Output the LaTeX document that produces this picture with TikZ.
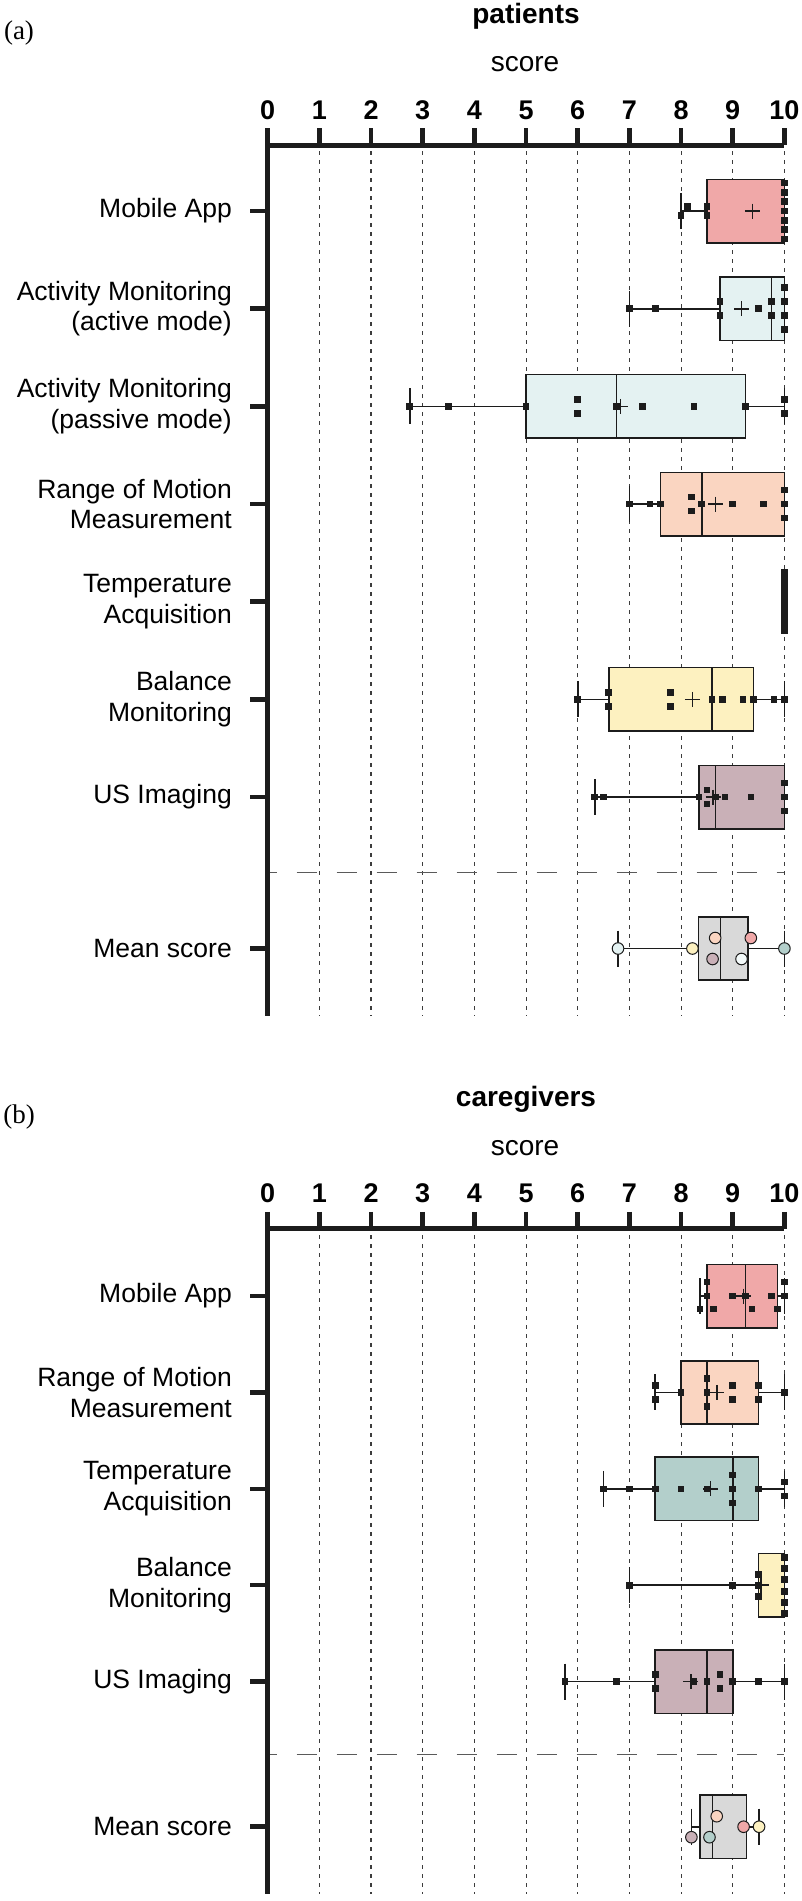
\documentclass[tikz,border=0pt]{standalone}
\usepackage{fontspec}
\setmainfont{Liberation Sans}
\newfontfamily\panelfont{Liberation Serif}
\definecolor{ink}{RGB}{28,28,28}
\definecolor{gridc}{RGB}{60,60,60}
\definecolor{sepc}{RGB}{90,90,90}
\definecolor{cMob}{RGB}{240,168,168}
\definecolor{cAct}{RGB}{228,242,242}
\definecolor{cRom}{RGB}{250,213,193}
\definecolor{cBal}{RGB}{253,241,192}
\definecolor{cUS}{RGB}{201,176,183}
\definecolor{cTmp}{RGB}{179,207,203}
\definecolor{cMean}{RGB}{217,217,217}
\newcommand\sx[1]{(267.7+51.67*(#1))}
\newcommand\pts[2]{\foreach \v/\d in {#2}{\fill[ink] ({\sx{\v}-3.3},{#1+\d-3.3}) rectangle ++(6.6,6.6);}}
\newcommand\bxrow[7]{%
  \draw[whln] ({\sx{#2}},#1) -- ({\sx{#3}},#1);
  \draw[whln] ({\sx{#5}},#1) -- ({\sx{#6}},#1);
  \draw[whln] ({\sx{#2}},{#1-18}) -- ({\sx{#2}},{#1+18});
  \draw[whln] ({\sx{#6}},{#1-18}) -- ({\sx{#6}},{#1+18});
  \filldraw[bxln,fill=#7] ({\sx{#3}},{#1-31.7}) rectangle ({\sx{#5}},{#1+31.7});
  \draw[whln] ({\sx{#4}},{#1-31.7}) -- ({\sx{#4}},{#1+31.7});
}
\newcommand\meanmark[2]{\draw[whln] ({\sx{#2}-7.5},#1) -- ++(15,0) ({\sx{#2}},{#1-7.5}) -- ++(0,15);}
\newcommand\mcirc[4]{\filldraw[draw=ink,line width=1pt,fill=#4] ({\sx{#2}},{#1+#3}) circle (5.8);}
\newcommand\header[4]{%
  \node[font=\panelfont\fontsize{27}{30}\selectfont, inner sep=0pt] (#4lt) at (19,{33+#1}) {#3};
  \node[font=\bfseries\fontsize{28}{30}\selectfont, anchor=base, inner sep=0pt] (#4ti) at (526,{23.3+#1}) {#2};
  \node[font=\fontsize{28}{30}\selectfont, anchor=base, inner sep=0pt] (#4sc) at (525,{71.7+#1}) {score};
  \foreach \k in {0,...,10} \node[font=\bfseries\fontsize{27}{30}\selectfont, anchor=base, inner sep=0pt] (#4t\k) at ({\sx{\k}},{119+#1}) {\k};
  \draw[axln] (267.7,{145+#1}) -- (784.3,{145+#1});
  \foreach \k in {1,...,10} \draw[axtick] ({\sx{\k}},{128.3+#1}) -- ({\sx{\k}},{145+#1});
}
\tikzset{
  axln/.style={line width=5pt, draw=ink},
  axtick/.style={line width=4.5pt, draw=ink},
  gridln/.style={draw=gridc, line width=1.1pt, dash pattern=on 4pt off 5pt},
  sepln/.style={draw=sepc, line width=1.4pt, dash pattern=on 20pt off 20pt, dash phase=11.3pt},
  whln/.style={draw=ink, line width=1.6pt},
  bxln/.style={draw=ink, line width=1.6pt},
  lbl/.style={font=\fontsize{26.5}{30.5}\selectfont, anchor=east, align=right, inner sep=0pt}
}
\begin{document}
\begin{tikzpicture}[x=1pt,y=-1pt]
\useasboundingbox[fill=white] (0,0) rectangle (801,1901);
% ================= panel (a) =================
\header{0}{patients}{(a)}{A}
\foreach \k in {1,...,10} \draw[gridln] ({\sx{\k}},151) -- ({\sx{\k}},1016);
\draw[sepln] (268,872.7) -- (784.3,872.7);
\draw[axln] (267.7,128.3) -- (267.7,1016);
\foreach \yy in {211,308.7,406.3,504,601.7,699.3,797,948.5} \draw[axtick] (250,\yy) -- (267.7,\yy);
\node[lbl] (a1) at (232,211) {Mobile App};
\node[lbl] (a2) at (232,308.7) {Activity Monitoring\\(active mode)};
\node[lbl] (a3) at (232,406.3) {Activity Monitoring\\(passive mode)};
\node[lbl] (a4) at (232,504) {Range of Motion\\Measurement};
\node[lbl] (a5) at (232,601.7) {Temperature\\Acquisition};
\node[lbl] (a6) at (232,699.3) {Balance\\Monitoring};
\node[lbl] (a7) at (232,797) {US Imaging};
\node[lbl] (a8) at (232,948.5) {Mean score};
% Mobile App
\bxrow{211}{8.0}{8.5}{10}{10}{10}{cMob}\meanmark{211}{9.38}
\pts{211}{8.12/-4.5,8.5/-4.5,8.0/4.5,8.5/4.5,10/-28,10/-18.7,10/-9.3,10/0,10/9.3,10/18.7,10/28}
% Activity active
\bxrow{308.7}{7.0}{8.75}{9.75}{10}{10}{cAct}\meanmark{308.7}{9.17}
\pts{308.7}{7.0/0,7.5/0,8.75/-7,8.75/7,9.5/0,9.75/-7,9.75/7,10/-21,10/-7,10/7,10/21}
% Activity passive
\bxrow{406.3}{2.75}{5.0}{6.75}{9.25}{10}{cAct}\meanmark{406.3}{6.83}
\pts{406.3}{2.75/0,3.5/0,5.0/0,6.0/-7,6.0/7,6.75/0,7.25/0,8.25/0,9.25/0,10/-7,10/7}
% ROM
\bxrow{504}{7.0}{7.6}{8.4}{10}{10}{cRom}\meanmark{504}{8.67}
\pts{504}{7.0/0,7.4/0,7.6/0,8.2/-7,8.2/7,8.4/0,9.0/0,9.6/0,10/-14,10/0,10/14}
% Temperature
\pts{601.7}{10/-29,10/-23.2,10/-17.4,10/-11.6,10/-5.8,10/0,10/5.8,10/11.6,10/17.4,10/23.2,10/29}
% Balance
\bxrow{699.3}{6.0}{6.6}{8.6}{9.4}{10}{cBal}\meanmark{699.3}{8.22}
\pts{699.3}{6.0/0,6.6/-7,6.6/7,7.8/-7,7.8/7,8.6/0,8.8/0,9.2/0,9.4/0,9.8/0,10/0}
% US
\bxrow{797}{6.33}{8.35}{8.67}{10}{10}{cUS}\meanmark{797}{8.62}
\pts{797}{6.33/0,6.5/0,8.35/0,8.5/-7,8.5/7,8.67/0,8.85/0,9.35/0,10/-14,10/0,10/14}
% Mean
\bxrow{948.5}{6.78}{8.34}{8.76}{9.3}{10}{cMean}
\mcirc{948.5}{6.78}{0}{cAct}\mcirc{948.5}{8.22}{0}{cBal}\mcirc{948.5}{8.66}{-10.5}{cRom}
\mcirc{948.5}{8.61}{10.5}{cUS}\mcirc{948.5}{9.17}{10.5}{white!60!cAct}\mcirc{948.5}{9.35}{-10.5}{cMob}
\mcirc{948.5}{10}{0}{cTmp}
% ================= panel (b) =================
\header{1083.5}{caregivers}{(b)}{B}
\foreach \k in {1,...,10} \draw[gridln] ({\sx{\k}},1235) -- ({\sx{\k}},1894);
\draw[sepln] (268,1754.3) -- (784.3,1754.3);
\draw[axln] (267.7,1211.8) -- (267.7,1894);
\foreach \yy in {1296,1392.4,1488.8,1585.2,1681.6,1826.7} \draw[axtick] (250,\yy) -- (267.7,\yy);
\node[lbl] (b1) at (232,1296) {Mobile App};
\node[lbl] (b2) at (232,1392.4) {Range of Motion\\Measurement};
\node[lbl] (b3) at (232,1488.8) {Temperature\\Acquisition};
\node[lbl] (b4) at (232,1585.2) {Balance\\Monitoring};
\node[lbl] (b5) at (232,1681.6) {US Imaging};
\node[lbl] (b6) at (232,1826.7) {Mean score};
% Mobile
\bxrow{1296}{8.37}{8.5}{9.25}{9.87}{10}{cMob}\meanmark{1296}{9.21}
\pts{1296}{8.37/13,8.5/-14,8.5/0,8.63/13,9.0/0,9.25/0,9.37/13,9.75/0,9.87/13,10/-14,10/0}
% ROM
\bxrow{1392.4}{7.5}{8.0}{8.5}{9.5}{10}{cRom}\meanmark{1392.4}{8.69}
\pts{1392.4}{7.5/-7,7.5/7,8.0/0,8.5/-14,8.5/0,8.5/14,9.0/-7,9.0/7,9.5/-7,9.5/7,10/0}
% Temperature
\bxrow{1488.8}{6.5}{7.5}{9.0}{9.5}{10}{cTmp}\meanmark{1488.8}{8.57}
\pts{1488.8}{6.5/0,7.0/0,7.5/0,8.0/0,8.5/0,9.0/-14,9.0/0,9.0/14,9.5/0,10/-7,10/7}
% Balance
\bxrow{1585.2}{7.0}{9.5}{10}{10}{10}{cBal}\meanmark{1585.2}{9.55}
\pts{1585.2}{7.0/0,9.0/0,9.5/-11,9.5/0,9.5/11,10/-28,10/-17,10/-6,10/6,10/17,10/28}
% US
\bxrow{1681.6}{5.75}{7.5}{8.5}{9.0}{10}{cUS}\meanmark{1681.6}{8.19}
\pts{1681.6}{5.75/0,6.75/0,7.5/-7,7.5/7,8.25/0,8.5/0,8.75/-7,8.75/7,9.0/0,9.5/0,10/0}
% Mean
\bxrow{1826.7}{8.2}{8.37}{8.61}{9.27}{9.51}{cMean}
\mcirc{1826.7}{8.2}{10.5}{cUS}\mcirc{1826.7}{8.55}{10.5}{cTmp}\mcirc{1826.7}{8.69}{-10.5}{cRom}
\mcirc{1826.7}{9.21}{0}{cMob}\mcirc{1826.7}{9.51}{0}{cBal}
\end{tikzpicture}
\end{document}
